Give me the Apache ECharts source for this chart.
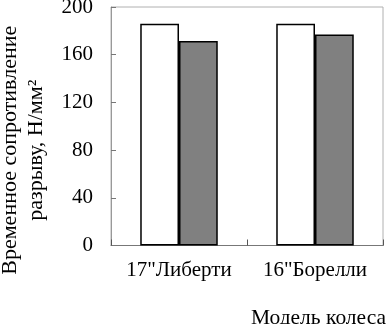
<!DOCTYPE html>
<html>
<head>
<meta charset="utf-8">
<script src="https://cdn.jsdelivr.net/npm/echarts@6/dist/echarts.min.js"></script>
<style>
html,body{margin:0;padding:0;background:#fff;}
#c{width:387px;height:324px;}
</style>
</head>
<body>
<div id="c"></div>
<script>
const categories = ['17"Либерти', '16"Борелли'];
const seriesWhite = [186, 186];
const seriesGray = [171.5, 177];
const yTicks = { min: 0, max: 200, interval: 40 };
const xAxisName = 'Модель колеса';
const yAxisNameLines = ['Временное сопротивление', 'разрыву, Н/мм²'];

const FONT = '"Liberation Serif", "Times New Roman", serif';
const chart = echarts.init(document.getElementById('c'), null, { renderer: 'canvas' });
chart.setOption({
  backgroundColor: '#fff',
  animation: false,
  grid: { left: 111, right: 4, top: 7, bottom: 78.5, containLabel: false, outerBoundsMode: 'none',
          show: true, borderColor: '#b0b0b0', borderWidth: 1 },
  xAxis: {
    type: 'category',
    data: categories,
    name: xAxisName,
    nameLocation: 'end',
    nameGap: 3,
    nameTextStyle: { fontFamily: FONT, fontSize: 21.5, color: '#000', align: 'right', verticalAlign: 'top', padding: [62, 0, 0, 0] },
    axisLine: { show: true, lineStyle: { color: '#777', width: 1 } },
    axisTick: { show: true, inside: true, length: 6, lineStyle: { color: '#555' } },
    axisLabel: { fontFamily: FONT, fontSize: 21, color: '#000', margin: 14, interval: 0, hideOverlap: false },
    splitLine: { show: false }
  },
  yAxis: {
    type: 'value',
    min: yTicks.min, max: yTicks.max, interval: yTicks.interval,
    name: yAxisNameLines.join('\n'),
    nameLocation: 'middle',
    nameRotate: 90,
    nameGap: 62,
    nameTextStyle: { fontFamily: FONT, fontSize: 22, color: '#000', lineHeight: 26, align: 'center', padding: [0, 48, 0, 0] },
    axisLine: { show: true, lineStyle: { color: '#999', width: 1 } },
    axisTick: { show: true, inside: true, length: 5, lineStyle: { color: '#777' } },
    axisLabel: { fontFamily: FONT, fontSize: 21, color: '#000', margin: 18 },
    splitLine: { show: false }
  },
  series: [
    { type: 'bar', data: seriesWhite, barGap: '0%', barCategoryGap: '43%',
      itemStyle: { color: '#ffffff', borderColor: '#000', borderWidth: 1.5 } },
    { type: 'bar', data: seriesGray, barGap: '0%', barCategoryGap: '43%',
      itemStyle: { color: '#808080', borderColor: '#000', borderWidth: 1.5 } }
  ]
});
</script>
</body>
</html>
